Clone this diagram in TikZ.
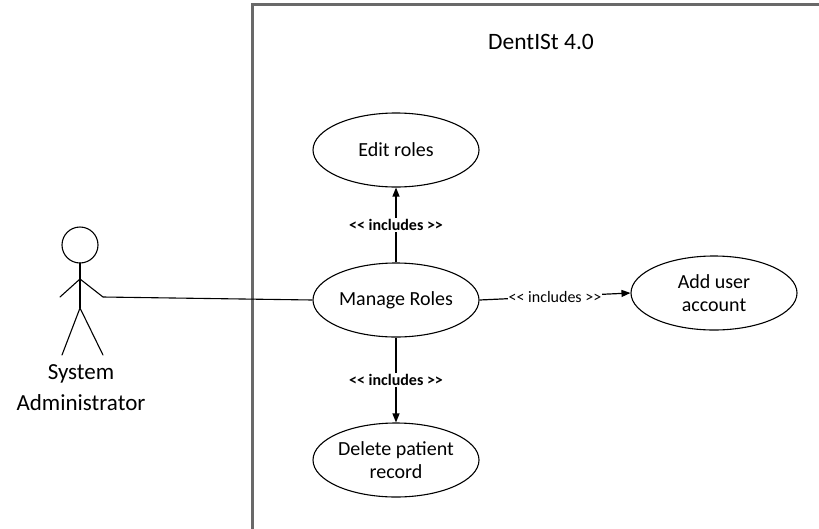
\documentclass[tikz,border=0pt]{standalone}
\usepackage{fontspec}
\setmainfont{Carlito}
\usetikzlibrary{shapes.geometric,arrows.meta}
\definecolor{boxgray}{RGB}{105,105,105}
\newcommand{\inctext}{<\kern0pt< includes >\kern0pt>}
\begin{document}
\begin{tikzpicture}[x=1pt,y=-1pt,
  usecase/.style={ellipse,draw=black,line width=1.1pt,minimum width=166pt,minimum height=74pt,inner sep=0pt,align=center,font=\fontsize{20}{23.5}\selectfont},
  inclabel/.style={fill=white,inner sep=1.5pt,font=\fontsize{16}{18}\selectfont\bfseries},
  incl/.style={line width=1.2pt,-{Triangle[length=9pt,width=7pt]}},
  actorline/.style={line width=1.1pt,line cap=round},
  sysbox/.style={draw=boxgray,line width=2.5pt}]
\useasboundingbox (0,0) rectangle (819,528);
\fill[white] (0,0) rectangle (819,528);
% system boundary
\draw[sysbox] (252.5,530) -- (252.5,4.5) -- (822,4.5);
\node[anchor=base,font=\fontsize{23.5}{27}\selectfont] (title) at (541,49) {DentISt 4.0};
% use cases
\node[usecase] (edit) at (396,150) {Edit roles};
\node[usecase] (manage) at (396,300) {Manage Roles};
\node[usecase] (add) at (714,293) {Add user\\account};
\node[usecase] (delete) at (396,460) {Delete patient\\record};
% actor
\draw[actorline] (80,245) circle (18);
\draw[actorline] (80,263) -- (80,308);
\draw[actorline] (60,297) -- (80,279) -- (103,297);
\draw[actorline] (62,355) -- (80,308) -- (103,355);
\coordinate (hand) at (103,297);
\node[align=center,font=\fontsize{23}{31}\selectfont] (actor) at (81,388) {System\\Administrator};
% connectors
\draw[line width=1.1pt] (hand) -- (manage.west);
\draw[incl] (manage.north) -- node[inclabel] (l1) {\inctext} (edit.south);
\draw[incl] (manage.south) -- node[inclabel] (l2) {\inctext} (delete.north);
\draw[incl] (manage.east) -- node[inclabel,font=\fontsize{16}{18}\selectfont,inner sep=0.5pt] (l3) {\inctext} (add.west);
\end{tikzpicture}
\end{document}
